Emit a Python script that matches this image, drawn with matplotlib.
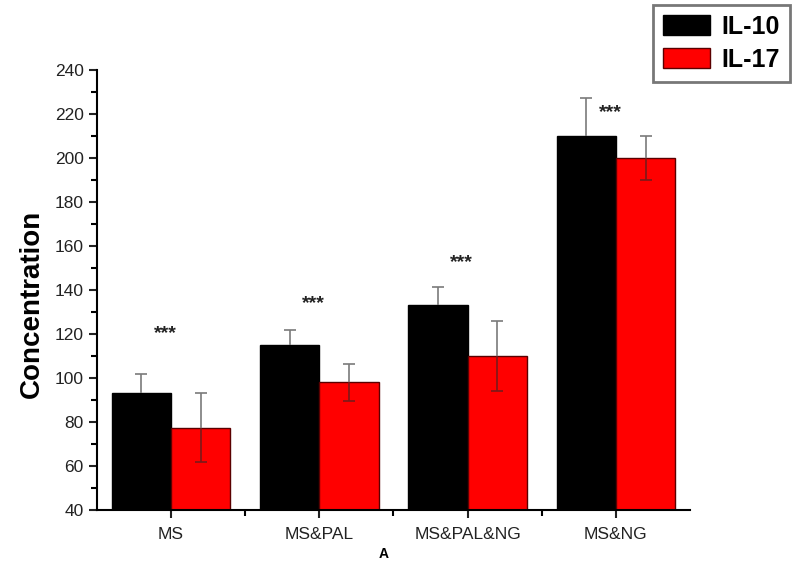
import matplotlib
matplotlib.use("Agg")
import matplotlib.pyplot as plt
import numpy as np
from matplotlib.ticker import MultipleLocator, FixedLocator

plt.rcParams["font.family"] = ["Liberation Sans", "DejaVu Sans"]

groups = ["MS", "MS&PAL", "MS&PAL&NG", "MS&NG"]
il10 = [93, 115, 133, 210]
il10_err = [9, 7, 8.5, 17.5]
il17 = [77.5, 98, 110, 200]
il17_err = [15.5, 8.5, 16, 10]
star_y = [120, 134, 152.5, 220.5]

x = np.arange(1, len(groups) + 1)
w = 0.4
zeros = np.zeros(len(groups))


def half_errbar(ax, xs, ys, lo, hi, color, z):
    # one-sided whisker; hide the cap that would sit on the bar top
    _, caps, _ = ax.errorbar(xs, ys, yerr=[lo, hi], fmt="none", ecolor=color,
                             elinewidth=1.2, capsize=4, capthick=1.2, zorder=z)
    if np.all(np.asarray(lo) == 0):
        caps[0].set_visible(False)
    else:
        caps[1].set_visible(False)


fig = plt.figure(figsize=(8, 5.61), dpi=100)
ax = fig.add_axes([0.121, 0.0909, 0.7415, 0.7841])

ax.bar(x - w / 2, il10, w, color="black", edgecolor="black", linewidth=1,
       label="IL-10", zorder=2)
ax.bar(x + w / 2, il17, w, color="#ff0000", edgecolor="#5a0000", linewidth=1,
       label="IL-17", zorder=2)

half_errbar(ax, x - w / 2, il10, zeros, il10_err, "#7a7a7a", 3)
half_errbar(ax, x + w / 2, il17, zeros, il17_err, "#7a7a7a", 3)
half_errbar(ax, x + w / 2, il17, il17_err, zeros, "#7a1a1a", 3)

for xi, yi in zip(x, star_y):
    ax.text(xi - 0.04, yi, "***", ha="center", va="center", fontsize=14,
            fontweight="bold", color="#222222")

ax.set_xlim(0.5, 4.5)
ax.set_ylim(40, 240)
ax.yaxis.set_major_locator(MultipleLocator(20))
ax.yaxis.set_minor_locator(MultipleLocator(10))
ax.xaxis.set_major_locator(FixedLocator(x))
ax.xaxis.set_minor_locator(FixedLocator(x[:-1] + 0.5))
ax.set_xticklabels(groups)

for s in ["top", "right"]:
    ax.spines[s].set_visible(False)
for s in ["left", "bottom"]:
    ax.spines[s].set_linewidth(1.5)

ax.tick_params(axis="both", which="major", direction="out", length=6, width=1.5,
               labelsize=12.5, colors="#222222")
ax.tick_params(axis="both", which="minor", direction="out", length=4, width=1.5)
ax.tick_params(axis="x", which="major", pad=6)

ax.set_ylabel("Concentration", fontsize=20, fontweight="bold")
ax.yaxis.set_label_coords(-0.087, 0.468)

leg = ax.legend(loc="upper right", bbox_to_anchor=(0.9875, 0.991),
                bbox_transform=fig.transFigure, borderaxespad=0,
                prop={"weight": "bold", "size": 18}, frameon=True,
                fancybox=False, edgecolor="#555555", handlelength=1.9,
                handleheight=0.85, borderpad=0.4, labelspacing=0.35,
                handletextpad=0.45)
leg.get_frame().set_linewidth(2)

fig.text(0.479, 0.0, "A", ha="center", va="bottom", fontsize=10,
         fontweight="bold")

fig.savefig("out.png", dpi=100)
